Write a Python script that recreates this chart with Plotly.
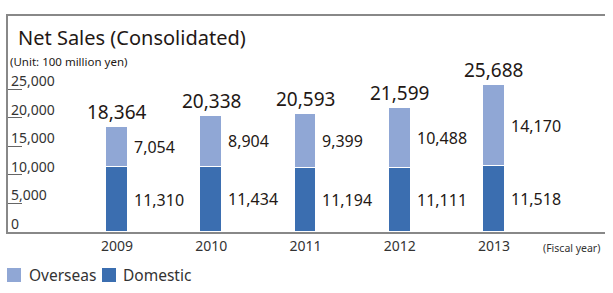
import plotly.graph_objects as go

years = ["2009", "2010", "2011", "2012", "2013"]
domestic = [11310, 11434, 11194, 11111, 11518]
overseas = [7054, 8904, 9399, 10488, 14170]
totals = [18364, 20338, 20593, 21599, 25688]
ytick_vals = [0, 5000, 10000, 15000, 20000, 25000]
ytick_text = ["0", "5,000", "10,000", "15,000", "20,000", "25,000"]
legend_names = ["Overseas", "Domestic"]

FONT = "Noto Sans"
C_DOM = "#3b6eb0"
C_OVS = "#90a7d5"
TXT = "#231815"

W, H = 613, 293
L, R, T, B = 8, 8, 16, 61
PW = W - L - R
PH = H - T - B

def px_x(p):
    return (p - L) / PW

def px_y(p):
    return (H - B - p) / PH

xpos = list(range(len(years)))
bar_w = 0.233

fig = go.Figure()
fig.add_trace(go.Bar(x=xpos, y=domestic, name="Domestic", marker=dict(color=C_DOM, line=dict(color="white", width=1)),
                     width=bar_w, hoverinfo="skip"))
fig.add_trace(go.Bar(x=xpos, y=overseas, name="Overseas", marker=dict(color=C_OVS, line=dict(color="white", width=1)),
                     width=bar_w, hoverinfo="skip"))

ann = []
shapes = []
ann.append(dict(text="Net Sales (Consolidated)", xref="paper", yref="paper", x=px_x(16), y=px_y(37),
                xanchor="left", yanchor="middle", showarrow=False, font=dict(size=20, color=TXT, family=FONT)))
ann.append(dict(text="(Unit: 100 million yen)", xref="paper", yref="paper", x=px_x(8), y=px_y(62),
                xanchor="left", yanchor="middle", showarrow=False, font=dict(size=11.5, color=TXT, family=FONT)))
ann.append(dict(text="(Fiscal year)", xref="paper", yref="paper", x=px_x(571), y=px_y(248),
                xanchor="center", yanchor="middle", showarrow=False, font=dict(size=10.5, color="#333", family=FONT)))
for v, t in zip(ytick_vals, ytick_text):
    ann.append(dict(text=t, xref="paper", yref="y", x=px_x(9), y=v, xanchor="left", yanchor="bottom",
                    yshift=-3, showarrow=False, font=dict(size=14, color="#333", family=FONT)))
for i, tot in enumerate(totals):
    ann.append(dict(text=f"{tot:,}", x=i, y=tot, xanchor="center", yanchor="bottom", yshift=0,
                    showarrow=False, font=dict(size=19, color=TXT, family=FONT)))
for i, (d, o) in enumerate(zip(domestic, overseas)):
    ann.append(dict(text=f"{d:,}", x=i + bar_w / 2, y=d / 2, xanchor="left", yanchor="middle", xshift=4,
                    showarrow=False, font=dict(size=16, color=TXT, family=FONT)))
    ann.append(dict(text=f"{o:,}", x=i + bar_w / 2, y=d + o / 2, xanchor="left", yanchor="middle", xshift=4,
                    showarrow=False, font=dict(size=16, color=TXT, family=FONT)))

# manual legend
leg_items = [(legend_names[0], C_OVS, 7, 27), (legend_names[1], C_DOM, 102, 121)]
for name, col, sx, tx in leg_items:
    shapes.append(dict(type="rect", xref="paper", yref="paper", x0=px_x(sx), x1=px_x(sx + 14),
                       y0=px_y(282), y1=px_y(268), fillcolor=col, line=dict(width=0)))
    ann.append(dict(text=name, xref="paper", yref="paper", x=px_x(tx), y=px_y(275), xanchor="left",
                    yanchor="middle", showarrow=False, font=dict(size=15.5, color="#333", family=FONT)))

fig.update_layout(
    width=W, height=H,
    margin=dict(l=L, r=R, t=T, b=B),
    paper_bgcolor="white", plot_bgcolor="white",
    barmode="stack", bargap=0,
    font=dict(family=FONT, color=TXT),
    annotations=ann, shapes=shapes,
    showlegend=False,
    xaxis=dict(range=[-1.157, 5.178], tickvals=xpos, ticktext=years, showgrid=False, zeroline=False,
               showline=True, mirror=True, linecolor="#888", linewidth=1.5, ticks="",
               tickfont=dict(size=14, color="#333", family=FONT), fixedrange=True, automargin=False),
    yaxis=dict(range=[0, 37762], tickvals=ytick_vals, showticklabels=False, showgrid=False, zeroline=False,
               showline=True, linecolor="#888", linewidth=1.5, ticks="inside", ticklen=14, tickcolor="#666",
               tickwidth=1, fixedrange=True, automargin=False),
)

fig.write_html("out.html", config={"displayModeBar": False},
               post_script="document.body.style.margin='0';document.body.style.padding='0';")
